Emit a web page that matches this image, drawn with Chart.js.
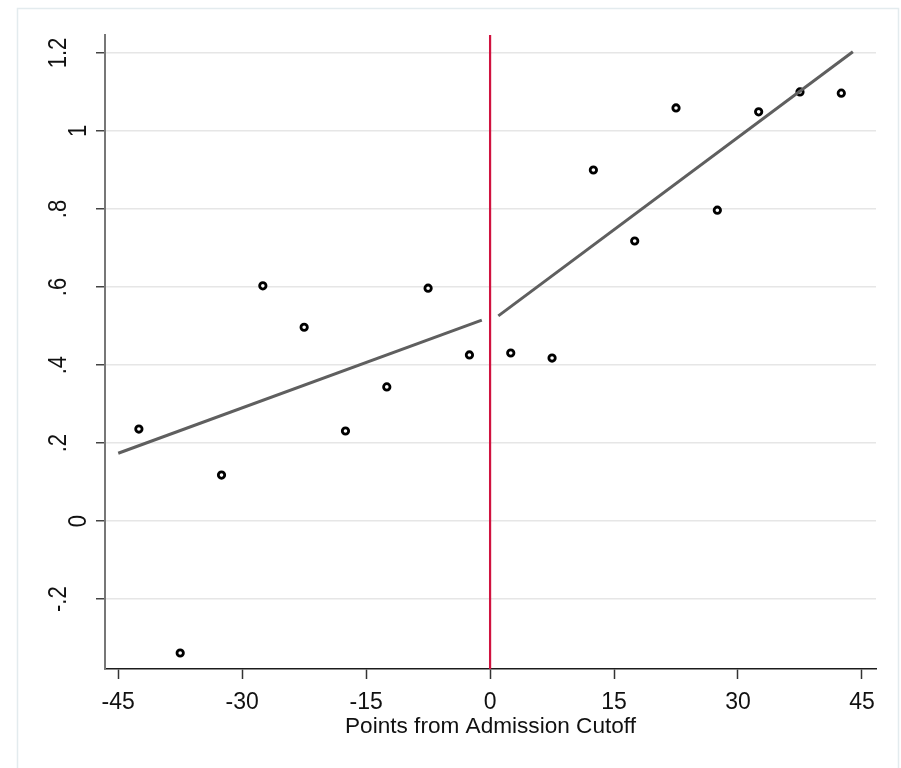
<!DOCTYPE html>
<html>
<head>
<meta charset="utf-8">
<script src="https://cdn.jsdelivr.net/npm/chart.js@4"></script>
<style>
  html, body { margin: 0; padding: 0; background: #ffffff; }
  #wrap { width: 901px; height: 768px; }
</style>
</head>
<body>
<div id="wrap"><canvas id="c" width="901" height="768"></canvas></div>
<script>
// ---- data ----
const binCenters = [-42.5, -37.5, -32.5, -27.5, -22.5, -17.5, -12.5, -7.5, -2.5, 2.5, 7.5, 12.5, 17.5, 22.5, 27.5, 32.5, 37.5, 42.5];
const binMeans   = [0.236, -0.338, 0.118, 0.603, 0.497, 0.231, 0.344, 0.597, 0.426, 0.431, 0.418, 0.900, 0.718, 1.059, 0.797, 1.049, 1.100, 1.097];
const leftFitX   = [-45, -1];
const leftFitY   = [0.174, 0.515];
const rightFitX  = [1, 43.9];
const rightFitY  = [0.526, 1.203];
const cutoffX    = [0, 0];
const xTickValues = [-45, -30, -15, 0, 15, 30, 45];
const xTickLabels = ['-45', '-30', '-15', '0', '15', '30', '45'];
const yTickValues = [-0.2, 0, 0.2, 0.4, 0.6, 0.8, 1.0, 1.2];
const yTickLabels = ['-.2', '0', '.2', '.4', '.6', '.8', '1', '1.2'];
const xRange = [-46.6, 46.7];
const yRange = [-0.379, 1.246];
const xTitle = 'Points from Admission Cutoff';

const pts = (xs, ys) => xs.map((x, i) => ({x: x, y: ys[i]}));

const FONT = '"Liberation Sans", Arial, sans-serif';
const FS = 23;

const framePlugin = {
  id: 'frame',
  beforeDraw(chart) {
    const ctx = chart.ctx;
    ctx.save();
    ctx.strokeStyle = '#e3ebee';
    ctx.lineWidth = 1.5;
    ctx.strokeRect(17.5, 8.5, 881, 800);
    ctx.restore();
  }
};

const yLabelPlugin = {
  id: 'ylabels',
  afterDraw(chart) {
    const ctx = chart.ctx;
    const ys = chart.scales.y;
    ctx.save();
    ctx.fillStyle = '#111111';
    ctx.font = '22px ' + FONT;
    ctx.textAlign = 'center';
    ctx.textBaseline = 'alphabetic';
    yTickValues.forEach((v, i) => {
      const lbl = yTickLabels[i];
      const py = ys.getPixelForValue(v);
      const bx = lbl.indexOf('.') >= 0 ? 65.5 : 86;
      ctx.save();
      ctx.translate(bx, py);
      ctx.rotate(-Math.PI / 2);
      ctx.scale(1, 1.17);
      ctx.fillText(lbl, 0, 0);
      ctx.restore();
    });
    ctx.restore();
  }
};

new Chart(document.getElementById('c'), {
  type: 'scatter',
  data: {
    datasets: [
      {
        label: 'cutoff',
        type: 'line',
        data: pts(cutoffX, yRange),
        borderColor: '#d0123f',
        borderWidth: 2.2,
        pointRadius: 0,
        fill: false,
        order: 0
      },
      {
        label: 'bins',
        data: pts(binCenters, binMeans),
        pointStyle: 'circle',
        pointRadius: 3.2,
        pointBorderWidth: 2.8,
        borderColor: '#000000',
        backgroundColor: '#ffffff',
        order: 2
      },
      {
        label: 'fit left',
        type: 'line',
        data: pts(leftFitX, leftFitY),
        borderColor: '#5f5f5f',
        borderWidth: 3,
        pointRadius: 0,
        fill: false,
        order: 1
      },
      {
        label: 'fit right',
        type: 'line',
        data: pts(rightFitX, rightFitY),
        borderColor: '#5f5f5f',
        borderWidth: 3,
        pointRadius: 0,
        fill: false,
        order: 1
      }
    ]
  },
  options: {
    responsive: false,
    animation: false,
    devicePixelRatio: 1,
    layout: { padding: { left: 0, right: 25, top: 35, bottom: 0 } },
    plugins: {
      legend: { display: false },
      tooltip: { enabled: false }
    },
    scales: {
      x: {
        type: 'linear',
        min: xRange[0],
        max: xRange[1],
        afterBuildTicks: (s) => { s.ticks = xTickValues.map(v => ({value: v})); },
        afterFit: (s) => { s.height = 99; },
        ticks: {
          autoSkip: false,
          maxRotation: 0,
          minRotation: 0,
          padding: 9.5,
          color: '#111111',
          font: { family: FONT, size: FS },
          callback: (v) => { const i = xTickValues.indexOf(v); return i >= 0 ? xTickLabels[i] : ''; }
        },
        grid: {
          drawOnChartArea: false,
          drawTicks: true,
          tickLength: 10,
          tickColor: '#333333',
          tickWidth: 1.5
        },
        border: { display: true, color: '#1c1c1c', width: 1.6 },
        title: {
          display: true,
          text: xTitle,
          color: '#111111',
          font: { family: FONT, size: 22.6 },
          padding: { top: 0, bottom: 28 }
        }
      },
      y: {
        type: 'linear',
        min: yRange[0],
        max: yRange[1],
        afterBuildTicks: (s) => { s.ticks = yTickValues.map(v => ({value: v})); },
        afterFit: (s) => { s.width = 105; },
        ticks: { display: false },
        grid: {
          drawOnChartArea: true,
          color: '#e6e6e6',
          lineWidth: 1.5,
          drawTicks: true,
          tickLength: 9,
          tickColor: '#444444',
          tickWidth: 1.5
        },
        border: { display: true, color: '#777777', width: 2 }
      }
    }
  },
  plugins: [framePlugin, yLabelPlugin]
});
</script>
</body>
</html>
